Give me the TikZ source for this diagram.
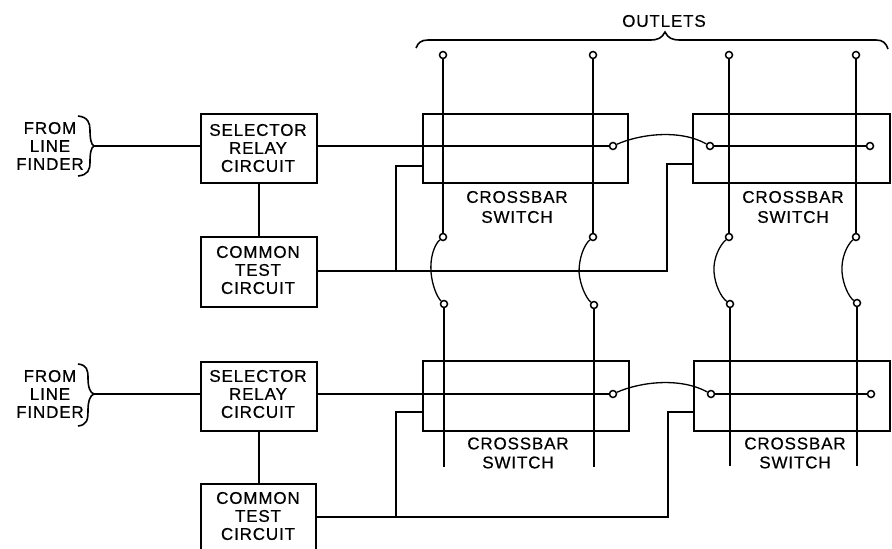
\documentclass[tikz,border=0pt]{standalone}
\usepackage{fontspec}
\setmainfont[LetterSpace=5,FakeBold=0.5]{Liberation Sans}
\usetikzlibrary{calc}
\tikzset{
  x=1pt,y=-1pt,
  wire/.style={line width=1.6pt,line join=miter},
  thin wire/.style={line width=1.3pt},
  blockbox/.style={draw,line width=1.6pt,inner sep=0pt,anchor=north west},
  term/.style={circle,draw,line width=1.5pt,fill=white,inner sep=0pt,minimum size=7pt},
  lab/.style={align=center,inner sep=0pt,font=\fontsize{17}{18}\selectfont},
}
\newcommand{\bbox}[5]{\node[blockbox,minimum width=#4pt,minimum height=#5pt] (#1) at (#2,#3) {};}
\begin{document}
\begin{tikzpicture}
\useasboundingbox (0,0) rectangle (892,549);
% crossbar boxes
\bbox{swA}{422}{113}{205}{69}
\bbox{swB}{692}{113}{197}{69}
\bbox{swC}{422}{360}{206}{70}
\bbox{swD}{693}{360}{196}{70}
% circuit boxes
\bbox{selA}{200}{113}{116}{69}
\bbox{comA}{200}{236}{116}{70}
\bbox{selB}{200}{361}{116}{69}
% open-ended lower box, cut by the page edge
\coordinate (comBtl) at (201,484);
\coordinate (comBtr) at (316,484);
\coordinate (comBbl) at (201,549);
\coordinate (comBbr) at (316,549);
\draw[wire] (comBbl) -- (comBtl) -- (comBtr) -- (comBbr);
% labels
\node[lab] (tSelA) at (258,148) {SELECTOR\\RELAY\\CIRCUIT};
\node[lab] (tComA) at (258,270) {COMMON\\TEST\\CIRCUIT};
\node[lab] (tSelB) at (258,394) {SELECTOR\\RELAY\\CIRCUIT};
\node[lab] (tComB) at (258,516) {COMMON\\TEST\\CIRCUIT};
\node[lab,font=\fontsize{17}{20}\selectfont] (tSwA) at (517,207) {CROSSBAR\\SWITCH};
\node[lab,font=\fontsize{17}{20}\selectfont] (tSwB) at (793,207) {CROSSBAR\\SWITCH};
\node[lab,font=\fontsize{17}{19}\selectfont] (tSwC) at (518,453) {CROSSBAR\\SWITCH};
\node[lab,font=\fontsize{17}{19}\selectfont] (tSwD) at (795,453) {CROSSBAR\\SWITCH};
\node[lab] (tFrA) at (50,146) {FROM\\LINE\\FINDER};
\node[lab] (tFrB) at (50,394) {FROM\\LINE\\FINDER};
\node[lab] (tOut) at (664,21) {OUTLETS};
% left braces
\coordinate (brA1) at (78,116); \coordinate (brA2) at (78,176); \coordinate (brAt) at (94,146);
\coordinate (brB1) at (78,364); \coordinate (brB2) at (78,426); \coordinate (brBt) at (94,394);
\draw[wire] (brA1) .. controls (88,117) and (90,123) .. (90,130)
  .. controls (90,138) and (91,145) .. (brAt)
  .. controls (91,147) and (90,154) .. (90,162)
  .. controls (90,170) and (88,175) .. (brA2);
\draw[wire] (brB1) .. controls (87,365) and (88,370) .. (88,378)
  .. controls (88,387) and (90,393) .. (brBt)
  .. controls (90,395) and (88,402) .. (88,410)
  .. controls (88,420) and (87,425) .. (brB2);
% outlets brace
\coordinate (brO1) at (416,48); \coordinate (brO2) at (888,49); \coordinate (brOt) at (665,32);
\draw[wire] (brO1) .. controls (418,43) and (421,40) .. (428,40)
  -- (650,40) .. controls (658,40) and (662,38) .. (brOt)
  .. controls (668,38) and (672,40) .. (680,40)
  -- (876,40) .. controls (883,40) and (886,43) .. (brO2);
% terminals
\foreach \n/\x/\y in {a1/443/55,a2/593/55,a3/729/55,a4/856/55,
  b1/443/237,b2/593/237,b3/729/237,b4/856/237,
  c1/444/304,c2/594/305,c3/730/304,c4/857/303}
  {\node[term] (\n) at (\x,\y) {};}
\node[term] (eA) at (613,146) {};
\node[term] (fA) at (710,146) {};
\node[term] (gA) at (870,146) {};
\node[term] (eB) at (613,394) {};
\node[term] (fB) at (711,394) {};
\node[term] (gB) at (871,394) {};
% free line ends
\coordinate (d1) at (444,467);
\coordinate (d2) at (594,467);
\coordinate (d3) at (730,466);
\coordinate (d4) at (857,466);
% verticals
\foreach \p/\q in {a1/b1,a2/b2,a3/b3,a4/b4,c1/d1,c2/d2,c3/d3,c4/d4}
  {\draw[wire] (\p) -- (\q);}
% multiple arcs between frames
\draw[thin wire] (b1) .. controls (434,245) and (430,258) .. (431,272) .. controls (432,285) and (437,297) .. (c1);
\draw[thin wire] (b2) .. controls (584,245) and (579,258) .. (579,272) .. controls (580,285) and (586,298) .. (c2);
\draw[thin wire] (b3) .. controls (720,245) and (713,258) .. (714,272) .. controls (715,285) and (721,297) .. (c3);
\draw[thin wire] (b4) .. controls (847,245) and (841,258) .. (842,272) .. controls (843,285) and (849,297) .. (c4);
% horizontal feeds
\draw[wire] (brAt) -- (selA.west |- brAt);
\draw[wire] (brBt) -- (selB.west |- brBt);
\draw[wire] (selA.south) -- (comA.north);
\draw[wire] (selB.south) -- (selB.south |- comBtl);
\draw[wire] (selA.east |- eA) -- (eA);
\draw[thin wire] (selB.east |- eB) -- (eB);
\draw[wire] (fA) -- (gA);
\draw[wire] (fB) -- (gB);
% jumpers
\draw[thin wire] (eA) .. controls (640,134) and (680,129) .. (fA);
\draw[thin wire] (eB) .. controls (640,382) and (680,377) .. (fB);
% common test feeds
\coordinate (jA) at (396,271); \coordinate (jB) at (396,517);
\draw[wire] (comA.east |- jA) -- (667,271) -- (667,164) -- (swB.west |- 0,164);
\draw[wire] (jA) -- (396,166) -- (swA.west |- 0,166);
\draw[wire] (comBtr |- jB) -- (668,517) -- (668,412) -- (swD.west |- 0,412);
\draw[wire] (jB) -- (396,412) -- (swC.west |- 0,412);
\end{tikzpicture}
\end{document}
